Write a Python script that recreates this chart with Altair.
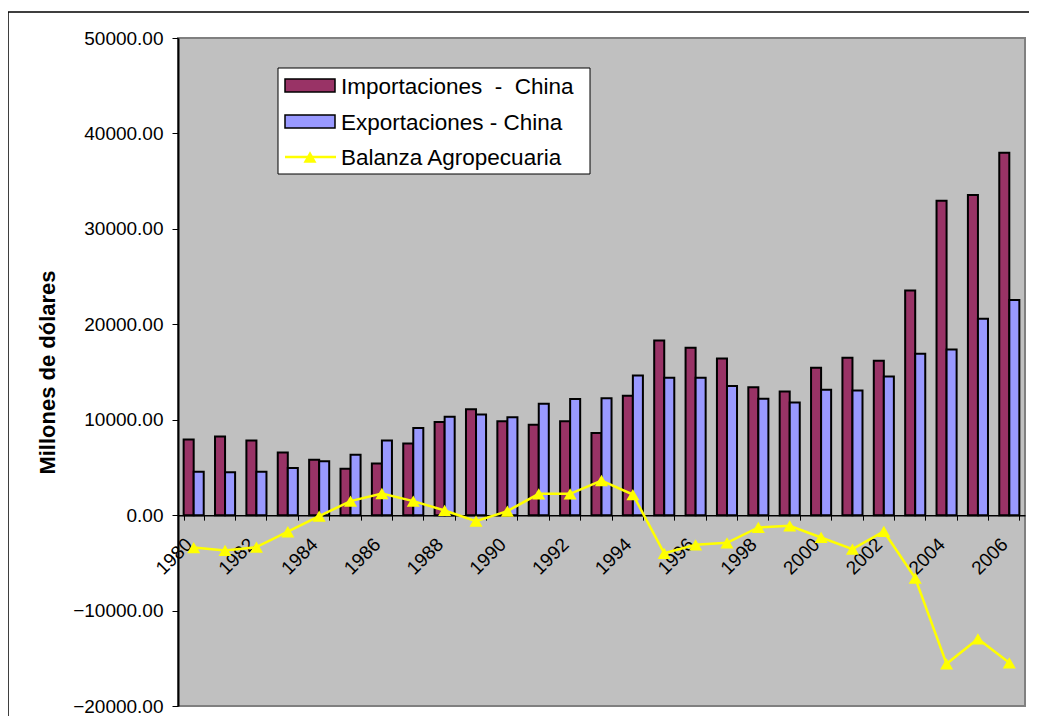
import altair as alt
import pandas as pd

years = list(range(1980, 2007))
importaciones = [7930, 8250, 7830, 6570, 5800, 4860, 5420, 7520, 9750,
                 11100, 9850, 9470, 9850, 8600, 12500, 18300, 17540, 16420,
                 13400, 12960, 15440, 16490, 16170, 23540, 32950, 33540, 37980]
exportaciones = [4550, 4500, 4550, 4930, 5660, 6330, 7830, 9120, 10310,
                 10550, 10270, 11670, 12160, 12260, 14640, 14390, 14390, 13520,
                 12190, 11800, 13130, 13060, 14530, 16910, 17360, 20580, 22540]
balanza = [-3400, -3700, -3350, -1740, -100, 1470, 2270, 1470, 490,
           -630, 420, 2230, 2230, 3630, 2160, -4000, -3110, -2900,
           -1290, -1120, -2340, -3560, -1710, -6600, -15580, -12960, -15480]

series_names = ["Importaciones", "Exportaciones"]
series_colors = ["#993366", "#9999FF"]
line_color = "#FFFF00"
legend_labels = ["Importaciones\u00a0\u00a0-\u00a0\u00a0China", "Exportaciones - China", "Balanza Agropecuaria"]
y_ticks = list(range(-20000, 50001, 10000))

FONT = "Liberation Sans"
W, H = 847, 668
ZERO_FROM_BOTTOM = H * 20000 / 70000

bars_df = pd.DataFrame(
    [{"year": y, "series": series_names[0], "value": v} for y, v in zip(years, importaciones)]
    + [{"year": y, "series": series_names[1], "value": v} for y, v in zip(years, exportaciones)]
)
line_df = pd.DataFrame({"year": years, "value": balanza})
one = pd.DataFrame({"k": [0]})

x_enc = alt.X("year:O", title=None,
              scale=alt.Scale(paddingInner=0.36, paddingOuter=0.18),
              axis=alt.Axis(offset=-ZERO_FROM_BOTTOM, labelAngle=-45, labelAlign="right",
                            labelBaseline="middle", labelPadding=21, labelOffset=-5,
                            tickBand="extent", tickSize=5, tickColor="black", tickWidth=1,
                            domainColor="black", domainWidth=1.5, grid=False,
                            labelExpr="datum.value % 2 == 0 ? datum.label : ''",
                            labelFont=FONT, labelFontSize=19, labelColor="black",
                            labelOverlap=False))
y_enc = alt.Y("value:Q", scale=alt.Scale(domain=[-20000, 50000], nice=False, zero=False),
              axis=alt.Axis(values=y_ticks, format=".2f", title="Millones de dólares",
                            titleFont=FONT, titleFontSize=22, titleFontWeight="bold",
                            titleColor="black", titlePadding=13,
                            labelFont=FONT, labelFontSize=19, labelColor="black",
                            labelPadding=9, tickSize=6, tickColor="black",
                            domainColor="black", domainWidth=2, grid=False))

bars = alt.Chart(bars_df).mark_bar(stroke="black", strokeWidth=2).encode(
    x=x_enc,
    xOffset=alt.XOffset("series:N", sort=series_names,
                        scale=alt.Scale(domain=series_names, paddingInner=0, paddingOuter=0)),
    y=y_enc,
    color=alt.Color("series:N", scale=alt.Scale(domain=series_names, range=series_colors), legend=None),
)

line = alt.Chart(line_df).mark_line(color=line_color, strokeWidth=2.5).encode(x=x_enc, y=y_enc)
points = alt.Chart(line_df).mark_point(shape="triangle-up", filled=True, color=line_color,
                                        size=170, opacity=1).encode(x=x_enc, y=y_enc)

# decorative outer border of the chart area
border = alt.Chart(one).mark_rect(fillOpacity=0, stroke="black", strokeWidth=1.5).encode(
    x=alt.value(-170), x2=alt.value(W + 40), y=alt.value(-26), y2=alt.value(H + 40))

# legend (manual, Excel style)
lx0, ly0 = 100, 30
leg_layers = [alt.Chart(one).mark_rect(fill="white", stroke="black", strokeWidth=1).encode(
    x=alt.value(lx0), x2=alt.value(lx0 + 312), y=alt.value(ly0), y2=alt.value(ly0 + 106))]
row_y = [ly0 + 18, ly0 + 54, ly0 + 89]
for i in range(2):
    leg_layers.append(alt.Chart(one).mark_rect(fill=series_colors[i], stroke="black", strokeWidth=1.5).encode(
        x=alt.value(lx0 + 7), x2=alt.value(lx0 + 57),
        y=alt.value(row_y[i] - 7), y2=alt.value(row_y[i] + 6)))
leg_layers.append(alt.Chart(one).mark_rule(color=line_color, strokeWidth=2.5).encode(
    x=alt.value(lx0 + 7), x2=alt.value(lx0 + 58), y=alt.value(row_y[2])))
leg_layers.append(alt.Chart(one).mark_point(shape="triangle-up", filled=True, color=line_color,
                                            size=170, opacity=1).encode(
    x=alt.value(lx0 + 32), y=alt.value(row_y[2])))
for i, lab in enumerate(legend_labels):
    leg_layers.append(alt.Chart(one).mark_text(align="left", baseline="middle", font=FONT,
                                               fontSize=22.5, color="black").encode(
        x=alt.value(lx0 + 63), y=alt.value(row_y[i] + 1), text=alt.value(lab)))

chart = alt.layer(bars, line, points, border, *leg_layers).properties(
    width=W, height=H,
    padding={"left": 170, "top": 30, "right": 4, "bottom": 10},
    autosize=alt.AutoSizeParams(type="none"),
    background="white",
).configure_view(
    fill="#C0C0C0", stroke="#808080", strokeWidth=2
)

chart.save("out.html", embed_options={"renderer": "svg", "actions": False})
